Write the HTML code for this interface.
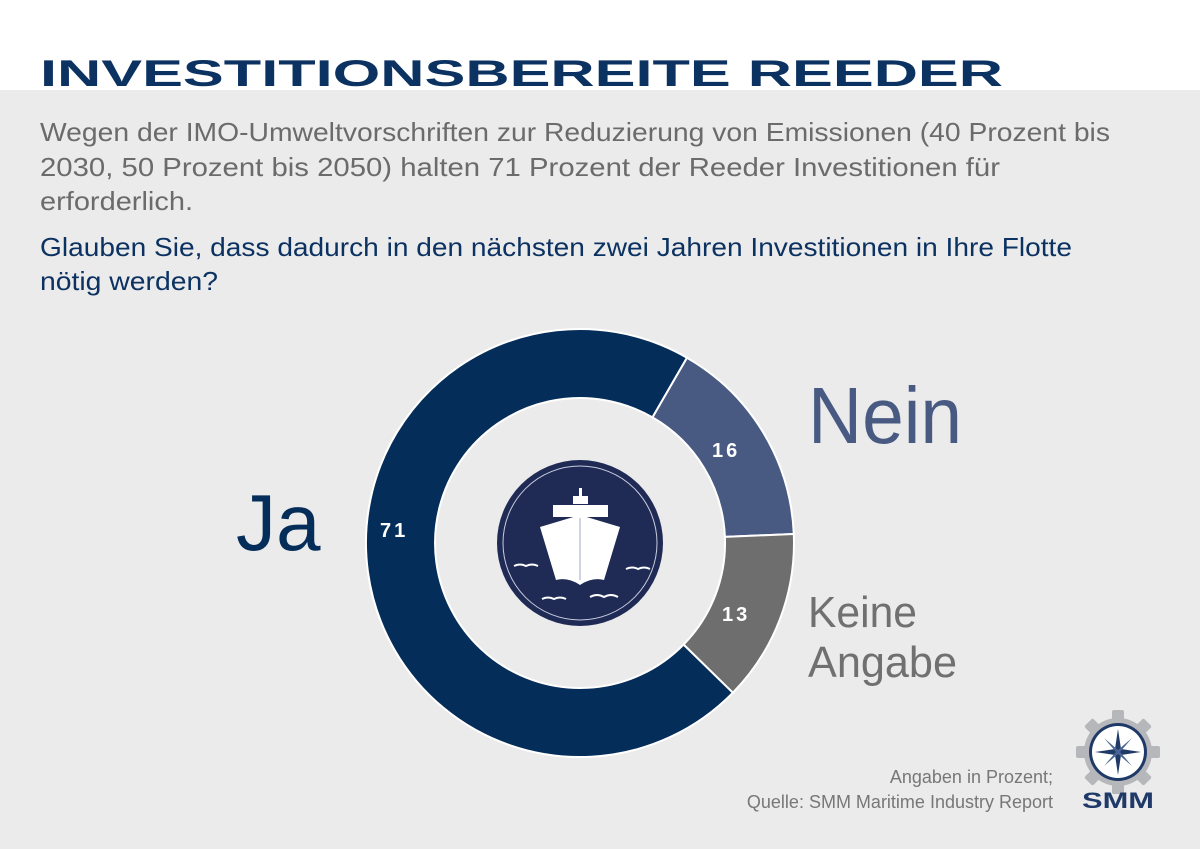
<!DOCTYPE html>
<html><head><meta charset="utf-8"><style>
html,body{margin:0;padding:0;background:#fff}
svg{display:block}
text{font-family:"Liberation Sans",sans-serif}
</style></head><body>
<svg width="1200" height="849" viewBox="0 0 1200 849" xmlns="http://www.w3.org/2000/svg">
<rect x="0" y="0" width="1200" height="849" fill="#ebebeb"/>
<rect x="0" y="0" width="1200" height="90" fill="#ffffff"/>
<text x="40" y="86" font-size="37" font-weight="bold" fill="#0c3262" textLength="963" lengthAdjust="spacingAndGlyphs">INVESTITIONSBEREITE REEDER</text>

<g font-size="26" fill="#6b6b6b">
<text x="40" y="141" textLength="1070" lengthAdjust="spacingAndGlyphs">Wegen der IMO-Umweltvorschriften zur Reduzierung von Emissionen (40 Prozent bis</text>
<text x="40" y="176" textLength="960" lengthAdjust="spacingAndGlyphs">2030, 50 Prozent bis 2050) halten 71 Prozent der Reeder Investitionen für</text>
<text x="40" y="210" textLength="153" lengthAdjust="spacingAndGlyphs">erforderlich.</text>
</g>
<g font-size="26" fill="#0c3262">
<text x="40" y="256" textLength="1032" lengthAdjust="spacingAndGlyphs">Glauben Sie, dass dadurch in den nächsten zwei Jahren Investitionen in Ihre Flotte</text>
<text x="40" y="290" textLength="178" lengthAdjust="spacingAndGlyphs">nötig werden?</text>
</g>

<g stroke="#ffffff" stroke-width="2" stroke-linejoin="round">
<path d="M 732.9 692.7 A 214 214 0 1 1 687 357.7 L 652.5 417.4 A 145 145 0 1 0 683.6 644.5 Z" fill="#052d5a"/>
<path d="M 687 357.7 A 214 214 0 0 1 793.8 534.0 L 724.9 536.9 A 145 145 0 0 0 652.5 417.4 Z" fill="#485a82"/>
<path d="M 793.8 534.0 A 214 214 0 0 1 732.9 692.7 L 683.6 644.5 A 145 145 0 0 0 724.9 536.9 Z" fill="#6e6e6e"/>
</g>
<g font-size="20" font-weight="bold" fill="#ffffff" letter-spacing="3">
<text x="380" y="537">71</text>
<text x="712" y="457">16</text>
<text x="722" y="621">13</text>
</g>

<circle cx="580" cy="543" r="83" fill="#1f2a55"/>
<circle cx="580" cy="543" r="77" fill="none" stroke="#c9cde0" stroke-width="1"/>
<rect x="579" y="488" width="3" height="9" fill="#fff"/>
<rect x="573" y="496" width="15" height="8" fill="#fff"/>
<rect x="553" y="505" width="55" height="12" fill="#fff"/>
<path d="M540 527 L580 515 L620 527 L604 580 Q592 577 580 585 Q568 577 556 580 Z" fill="#fff"/>
<line x1="580" y1="518" x2="580" y2="580" stroke="#c0c4d6" stroke-width="1.5"/>
<g stroke="#fff" stroke-width="2" fill="none">
<path d="M514 566 q6 -3 12 0 q6 -3 12 0"/>
<path d="M626 569 q6 -3 12 0 q6 -3 12 0"/>
<path d="M542 599 q6 -3 12 0 q6 -3 12 0"/>
<path d="M590 597 q7 -4 14 0 q7 -4 14 0"/>
</g>

<text x="236" y="550" font-size="80" fill="#052d5a">Ja</text>
<text x="808" y="443" font-size="80" fill="#485a82" textLength="154" lengthAdjust="spacingAndGlyphs">Nein</text>
<text x="808" y="627" font-size="44" fill="#707070" textLength="109" lengthAdjust="spacingAndGlyphs">Keine</text>
<text x="808" y="677" font-size="44" fill="#707070" textLength="149" lengthAdjust="spacingAndGlyphs">Angabe</text>

<g font-size="18" fill="#777777" text-anchor="end">
<text x="1053" y="783">Angaben in Prozent;</text>
<text x="1053" y="808">Quelle: SMM Maritime Industry Report</text>
</g>

<g transform="translate(1118,752)">
<g fill="#b5b7ba">
<circle r="34"/>
<rect x="-6" y="-42" width="12" height="84" rx="2"/>
<rect x="-6" y="-42" width="12" height="84" rx="2" transform="rotate(45)"/>
<rect x="-6" y="-42" width="12" height="84" rx="2" transform="rotate(90)"/>
<rect x="-6" y="-42" width="12" height="84" rx="2" transform="rotate(135)"/>
</g>
<circle r="29" fill="#1f3a68"/>
<circle r="26" fill="#ffffff"/>
<path d="M0 -23 L3 -3 L23 0 L3 3 L0 23 L-3 3 L-23 0 L-3 -3 Z" fill="#1f3a68"/>
<path d="M14 -14 L2 0 L14 14 L0 2 L-14 14 L-2 0 L-14 -14 L0 -2 Z" fill="#4a6595"/>
</g>
<text x="1118" y="808" font-size="22" font-weight="bold" fill="#1f3a68" text-anchor="middle" textLength="72" lengthAdjust="spacingAndGlyphs">SMM</text>
</svg>
</body></html>
